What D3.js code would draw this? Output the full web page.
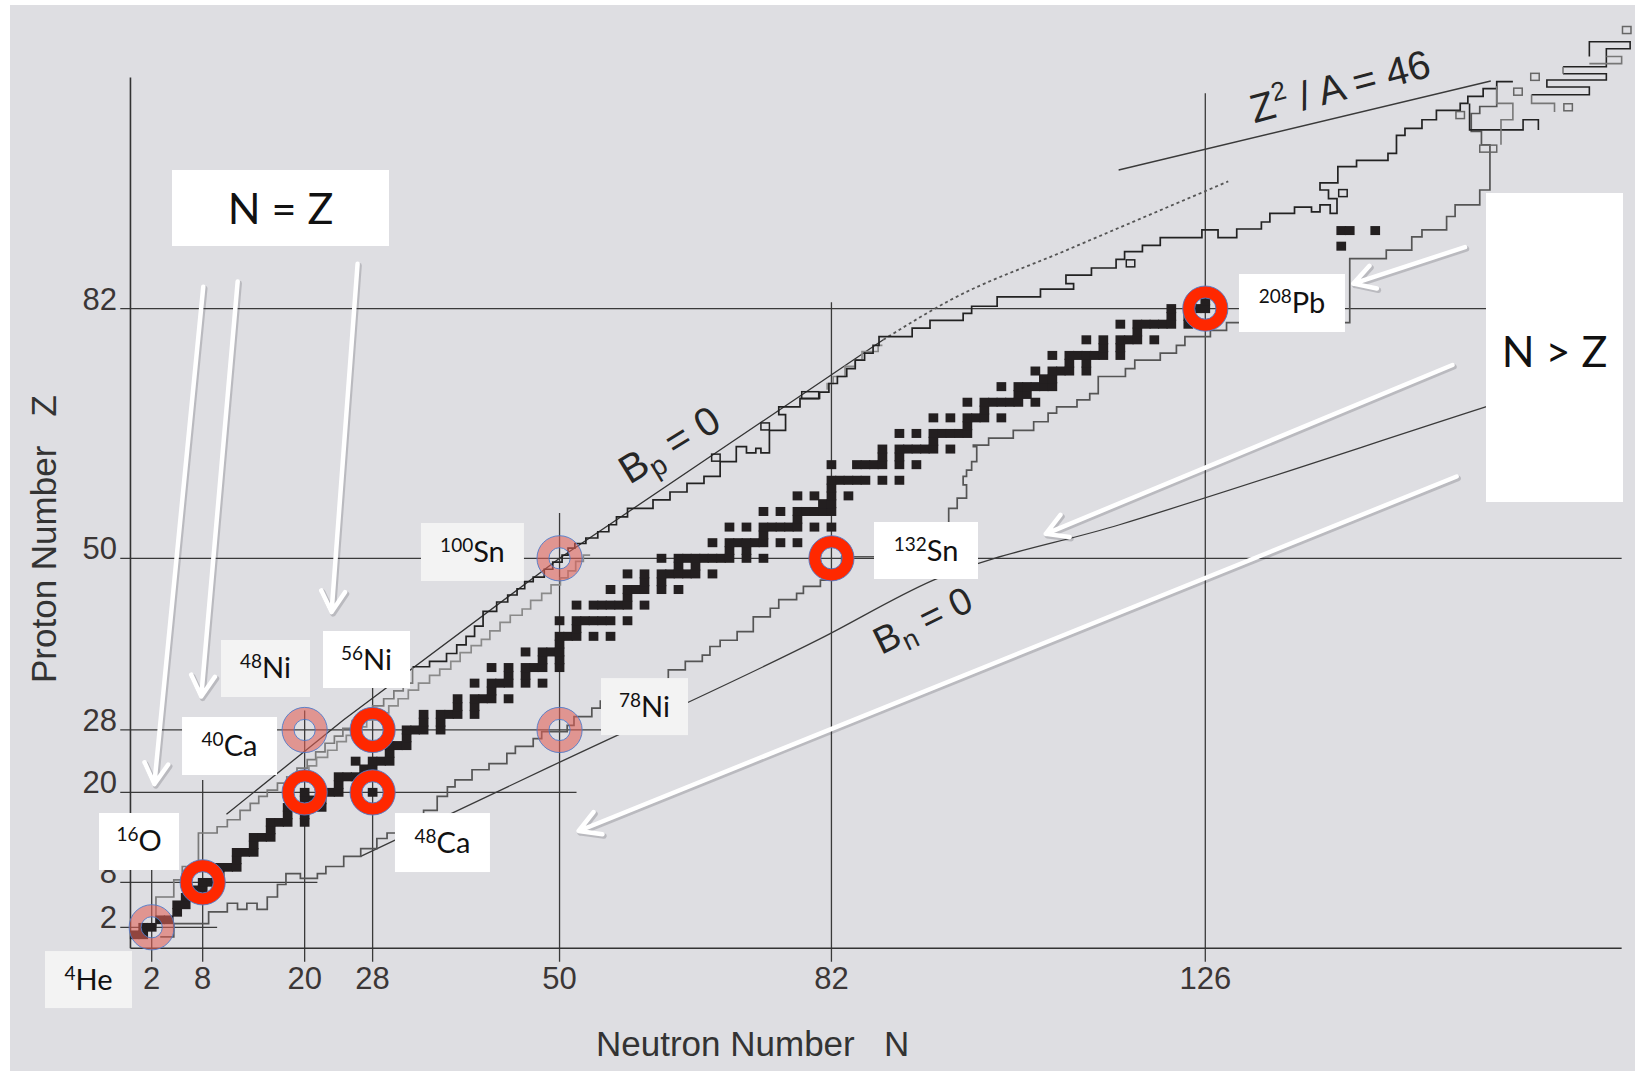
<!DOCTYPE html>
<html>
<head>
<meta charset="utf-8">
<script src="https://cdn.jsdelivr.net/npm/d3@7"></script>
<style>
  body { margin: 0; background: #fff; }
  svg { display: block; }
</style>
</head>
<body>
<svg id="chart" width="1635" height="1071"></svg>
<script>
const W = 1635, H = 1071

// magic numbers shown on the axes
const magicN = [2, 8, 20, 28, 50, 82, 126]
const magicZ = [82, 50, 28, 20, 8, 2]
// how far each magic line runs: [value, start, end] (in the other coordinate)
const gridZ = [[82, -1.7, 175], [50, -1.7, 175], [28, -1.7, 56], [20, -1.7, 52], [8, -1.7, 21.5], [2, -1.7, 9.7]]
const gridN = [[2, -2.6, 11], [8, -2.6, 21.6], [20, -2.6, 30.5], [28, -2.6, 38], [50, -2.6, 55.8], [82, -2.6, 82.8], [126, -2.6, 109.6]]

// stable (and primordial) nuclides: [Z, [N ...]]
const stable = [
  [1,[0,1]],[2,[1,2]],[3,[3,4]],[4,[5]],[5,[5,6]],[6,[6,7]],[7,[7,8]],[8,[8,9,10]],[9,[10]],[10,[10,11,12]],
  [11,[12]],[12,[12,13,14]],[13,[14]],[14,[14,15,16]],[15,[16]],[16,[16,17,18,20]],[17,[18,20]],[18,[18,20,22]],[19,[20,21,22]],[20,[20,22,23,24,26,28]],
  [21,[24]],[22,[24,25,26,27,28]],[23,[27,28]],[24,[26,28,29,30]],[25,[30]],[26,[28,30,31,32]],[27,[32]],[28,[30,32,33,34,36]],[29,[34,36]],[30,[34,36,37,38,40]],
  [31,[38,40]],[32,[38,40,41,42,44]],[33,[42]],[34,[40,42,43,44,46,48]],[35,[44,46]],[36,[42,44,46,47,48,50]],[37,[48,50]],[38,[46,48,49,50]],[39,[50]],[40,[50,51,52,54,56]],
  [41,[52]],[42,[50,52,53,54,55,56,58]],[44,[52,54,55,56,57,58,60]],[45,[58]],[46,[56,58,59,60,62,64]],[47,[60,62]],[48,[58,60,62,63,64,65,66,68]],[49,[64,66]],[50,[62,64,65,66,67,68,69,70,72,74]],
  [51,[70,72]],[52,[68,70,71,72,73,74,76,78]],[53,[74]],[54,[70,72,74,75,76,77,78,80,82]],[55,[78]],[56,[74,76,78,79,80,81,82]],[57,[81,82]],[58,[78,80,82,84]],[59,[82]],[60,[82,83,84,85,86,88,90]],
  [62,[82,85,86,87,88,90,92]],[63,[88,90]],[64,[88,90,91,92,93,94,96]],[65,[94]],[66,[90,92,94,95,96,97,98]],[67,[98]],[68,[94,96,98,99,100,102]],[69,[100]],[70,[98,100,101,102,103,104,106]],
  [71,[104,105]],[72,[102,104,105,106,107,108]],[73,[107,108]],[74,[106,108,109,110,112]],[75,[110,112]],[76,[108,110,111,112,113,114,116]],[77,[114,116]],[78,[112,114,116,117,118,120]],[79,[118]],[80,[116,118,119,120,121,122,124]],
  [81,[122,124]],[82,[122,124,125,126]],[83,[126]],[90,[142]],[92,[142,143,146]]
]

// limits of known nuclei, stair lines: [N where the run starts, Z of the run]
const protonLimitLow = [[2.5,2.09],[2.5,6.04],[4.6,8.33],[5.6,10.11],[7.5,14.58],[9.7,15.42],[10.9,16.35],[12.4,17.6],[13.6,18.54],[14.6,19.48],[15.6,20.3],[16.8,21.2],[17.9,22.0],[19.1,23.1],[20.3,24.2],[21.3,25.2],[22.4,26.3],[23.5,27.2],[24.5,28.2],[25.6,29.2],[26.8,30.1],[28.0,31.1],[29.3,32.0],[30.5,33.0],[31.6,34.0],[32.7,36.1]]
const protonLimit = [[32.7,36.1],[34.7,36.8],[36.7,37.8],[37.9,38.9],[39.0,40.0],[40.0,41.3],[41.0,43.2],[42.6,44.4],[43.9,45.3],[45.0,46.1],[45.9,47.0],[46.9,47.6],[48.2,48.6],[49.2,49.5],[50.3,50.4],[51.0,51.3],[51.8,51.9],[53.1,52.6],[54.5,53.4],[55.8,54.3],[56.7,55.3],[58.0,56.4],[61.0,57.5],[63.0,58.5],[65.0,59.6],[67.0,60.5],[68.9,62.4],[70.8,64.3],[72.0,63.5],[73.1,64.1],[73.7,63.5],[74.7,66.4],[76.6,68.4],[75.8,69.4],[78.3,70.5],[80.6,71.3],[81.7,72.4],[82.7,73.3],[83.8,74.3],[84.8,75.4],[85.9,76.3],[86.9,77.3],[87.6,78.4],[91.5,79.5],[93.6,80.5],[97.5,81.4],[98.5,82.3],[101.5,83.5],[106.6,84.5],[110.5,85.2],[109.6,86.3],[112.6,87.2],[115.5,88.3],[116.5,89.3],[118.6,90.1],[120.7,91.1],[125.6,92.1],[127.5,91.1],[129.7,92.2],[132.6,93.1],[133.6,94.2],[136.5,95.0],[138.5,94.4],[139.5,95.3],[140.7,94.2],[141.5,96.1],[140.5,97.2],[139.5,98.1],[141.6,100.2],[143.8,101.0],[147.5,101.9],[148.5,104.2],[149.5,105.1],[151.5,106.2],[153.2,107.4],[156.0,108.3],[156.9,109.2],[158.7,110.2],[160.3,111.1],[162.2,111.1]]
const protonInner = [[17.9,22.0],[19.3,22.6],[20.5,23.4],[21.4,24.5],[22.7,25.4],[23.8,26.5],[24.9,27.3],[26.1,28.4],[27.3,29.3],[28.6,30.2],[29.9,31.1],[31.0,32.0],[32.2,33.1],[33.4,34.0],[34.7,35.0],[35.9,35.8],[37.2,36.8],[38.3,37.9],[39.6,38.8],[40.8,39.6],[41.8,40.7],[43.0,41.8],[44.2,42.7],[45.6,43.5],[46.6,44.6],[47.9,45.5],[49.0,46.6],[50.1,47.5],[51.0,48.4],[51.9,49.6],[52.8,50.4],[53.6,50.4]]
const protonInner2 = [[81.5,71.6],[81.5,72.4],[82.2,73.3],[83.6,74.6],[84.8,75.4],[85.6,76.5],[87.5,77.3],[88.0,77.3]]
const neutronLimit = [[3.0,0.73],[4.6,2.5],[8.7,4.07],[10.9,5.21],[12.1,4.38],[13.2,5.21],[14.4,4.38],[15.6,6.04],[16.8,7.71],[17.8,9.17],[19.5,8.54],[21.5,9.17],[22.5,10.11],[24.6,11.46],[26.6,12.5],[28.5,13.85],[29.7,14.58],[31.2,15.73],[32.6,16.67],[34.0,17.6],[35.6,19.48],[36.8,20.7],[37.7,21.6],[39.7,22.9],[41.7,23.7],[43.8,25.0],[44.8,25.9],[46.9,26.9],[47.9,27.8],[50.9,28.6],[51.7,29.7],[53.8,30.8],[54.8,31.7],[56.8,32.6],[58.8,33.4],[60.8,34.3],[62.8,35.7],[64.8,36.8],[66.8,37.6],[67.7,38.7],[68.9,39.5],[70.9,40.6],[72.8,42.5],[74.8,43.6],[75.8,44.7],[77.9,45.5],[78.7,46.4],[80.7,47.2],[82.2,48.6],[83.2,50.2],[95.8,56.4],[96.8,57.7],[97.9,59.4],[97.5,60.5],[97.9,61.3],[98.5,62.4],[99.1,64.3],[98.7,64.5],[100.5,65.4],[103.4,66.4],[105.8,67.5],[107.5,68.6],[108.5,69.4],[110.9,70.3],[112.4,71.1],[113.4,73.3],[116.6,74.3],[117.7,75.4],[120.7,76.3],[122.6,77.3],[123.6,78.4],[126.6,79.2],[128.5,80.2],[143.0,88.4],[147.3,89.5],[150.3,91.2],[151.5,92.1],[154.4,93.8],[155.4,95.3],[158.3,97.2],[159.5,98.1],[159.5,103.0],[158.5,104.7],[157.3,107.0],[158.3,107.9],[160.3,110.5]]

// superheavy corner outlines (corner lists)
const heavyBlack = [
  [[157.1,108.3],[157.1,104.9],[163.4,104.9],[163.4,106.2],[165.2,106.2],[165.2,104.9]],
  [[164.4,109.4],[171.2,109.4],[171.2,110.4],[166.2,110.4],[166.2,111.3],[173.2,111.3],[173.2,112.1],[168.1,112.1]],
  [[168.1,113.0],[173.2,113.0],[173.2,115.3],[176.0,115.3],[176.0,116.2],[171.2,116.2],[171.2,114.3]]
]
const heavyGray = [
  [[160.3,110.5],[160.3,108.3],[162.2,108.3],[162.2,106.2],[160.8,106.2],[160.8,103.0]],
  [[167.1,107.2],[167.1,108.3],[164.4,108.3],[164.4,109.4]],
  [[168.1,112.1],[168.1,113.0]],
  [[171.2,113.4],[175.0,113.4],[175.0,114.3],[173.2,114.3]]
]
// isolated known nuclei drawn as open boxes: [N, Z, cells wide]
const isolatedKnown = [[68.4,62.9,1],[74.2,66.9,1],[79.5,70.9,2],[117.2,87.8,1],[142.2,96.8,1],[156,106.8,1],[159.3,102.5,2],[162.8,109.8,1],[164.8,111.7,1],[168.7,107.8,1],[175.6,117.7,1]]

// theory lines
const protonDrip = [[10.8,17.08],[24.6,29.3],[50,50],[88.1,78.0]]
const protonDripExtrap = [[88.1,78.0],[96,83.1],[109.7,89.5],[128.7,98.3]]
const neutronDrip = [[26.6,11.46],[48.9,23.3],[80.7,39.7],[94,47.2],[115.9,54.3],[159,69.4],[165,71.5]]
const fissionLimit = [[115.8,99.76],[159.6,111.17]]

// doubly magic nuclei
const ringsStrong = [[8,8],[20,20],[28,20],[28,28],[82,50],[126,82]]
const ringsPale = [[2,2],[20,28],[50,28],[50,50]]
const isotopes = [["4","He"],["16","O"],["40","Ca"],["48","Ni"],["56","Ni"],["100","Sn"],["78","Ni"],["48","Ca"],["132","Sn"],["208","Pb"]]

// --- layout of annotations (N, Z of box centre, box size, fill) ---
const labelLayout = {
  "4He":   [-5.44, -4.97, 87, 57, "#f3f3f3"],
  "16O":   [0.51, 13.45, 80, 57, "#fff"],
  "40Ca":  [11.16, 25.95, 95, 58, "#fff"],
  "48Ni":  [15.39, 35.88, 89, 57, "#f3f3f3"],
  "56Ni":  [27.28, 37.03, 87, 57, "#fff"],
  "100Sn": [39.75, 50.81, 103, 58, "#f3f3f3"],
  "78Ni":  [60.0, 31.0, 87, 57, "#f3f3f3"],
  "48Ca":  [36.22, 13.31, 95, 59, "#fff"],
  "132Sn": [93.13, 51.0, 104, 57, "#fff"],
  "208Pb": [136.2, 82.72, 106, 58, "#fff"]
}
const arrows = [[8.07,84.81,2.31,21.06],[12.12,85.47,7.83,32.29],[26.23,87.74,23.17,43.11],[156.56,89.88,143.43,85.2],[155.09,74.77,107.23,53.13],[155.58,60.48,52.25,14.85]]

const x = d3.scaleLinear().domain([2, 126]).range([151.7, 1205.3])
const y = d3.scaleLinear().domain([2, 20, 82]).range([927.3, 792.4, 308.6])

const svg = d3.select("#chart")
svg.append("rect").attr("width", W).attr("height", H).attr("fill", "#fff")
svg.append("rect").attr("x", 10).attr("y", 5).attr("width", W - 10).attr("height", H - 5).attr("fill", "#dedee2")

// magic number lines
const grid = svg.append("g").attr("stroke", "#3a3a3a").attr("stroke-width", 1.3)
grid.selectAll(".gz").data(gridZ).join("line")
  .attr("x1", d => x(d[1])).attr("x2", d => x(d[2]))
  .attr("y1", d => y(d[0])).attr("y2", d => y(d[0]))
grid.selectAll(".gn").data(gridN).join("line")
  .attr("x1", d => x(d[0])).attr("x2", d => x(d[0]))
  .attr("y1", d => y(d[1])).attr("y2", d => y(d[2]))
// axes frame
svg.append("line").attr("x1", x(-0.5)).attr("x2", x(-0.5)).attr("y1", y(111.6)).attr("y2", y(-0.8))
  .attr("stroke", "#333").attr("stroke-width", 1.6)
svg.append("line").attr("x1", x(-0.5)).attr("x2", x(175)).attr("y1", y(-0.8)).attr("y2", y(-0.8))
  .attr("stroke", "#333").attr("stroke-width", 1.6)

// tick labels
const tickFont = "'Liberation Sans', Arial, Helvetica, sans-serif"
svg.selectAll(".yt").data(magicZ).join("text")
  .attr("x", 117).attr("y", d => y(d) + 1)
  .attr("text-anchor", "end").attr("font-family", tickFont).attr("font-size", 31).attr("fill", "#3b3636")
  .text(d => d)
svg.selectAll(".xt").data(magicN).join("text")
  .attr("x", d => x(d)).attr("y", 989)
  .attr("text-anchor", "middle").attr("font-family", tickFont).attr("font-size", 31).attr("fill", "#3b3636")
  .text(d => d)
svg.append("text").attr("x", 596).attr("y", 1056).attr("font-family", tickFont).attr("font-size", 35)
  .attr("fill", "#333").attr("xml:space", "preserve").text("Neutron Number   N")
svg.append("text").attr("transform", "translate(56,683) rotate(-90)").attr("font-family", tickFont)
  .attr("font-size", 35).attr("fill", "#333").attr("xml:space", "preserve").text("Proton Number   Z")

// theory lines
const straight = d3.line().x(d => x(d[0])).y(d => y(d[1]))
const smooth = d3.line().x(d => x(d[0])).y(d => y(d[1])).curve(d3.curveMonotoneX)
const stair = d3.line().x(d => x(d[0])).y(d => y(d[1])).curve(d3.curveStepAfter)
svg.append("path").attr("d", straight(protonDrip)).attr("fill", "none").attr("stroke", "#333").attr("stroke-width", 1.3)
svg.append("path").attr("d", smooth(protonDripExtrap)).attr("fill", "none").attr("stroke", "#555")
  .attr("stroke-width", 1.8).attr("stroke-dasharray", "3,3")
svg.append("path").attr("d", smooth(neutronDrip)).attr("fill", "none").attr("stroke", "#3a3a3a").attr("stroke-width", 1.3)
svg.append("path").attr("d", straight(fissionLimit)).attr("fill", "none").attr("stroke", "#3a3a3a").attr("stroke-width", 1.4)

// known-nuclei limits
const stairs = [[protonLimitLow, "#7a7a7a"], [protonInner, "#8a8a8a"], [protonInner2, "#8a8a8a"], [protonLimit, "#222"], [neutronLimit, "#555"]]
svg.selectAll(".stair").data(stairs).join("path")
  .attr("d", d => stair(d[0])).attr("fill", "none").attr("stroke", d => d[1]).attr("stroke-width", 1.7)
svg.selectAll(".hb").data(heavyBlack).join("path")
  .attr("d", d => straight(d)).attr("fill", "none").attr("stroke", "#222").attr("stroke-width", 1.6)
svg.selectAll(".hg").data(heavyGray).join("path")
  .attr("d", d => straight(d)).attr("fill", "none").attr("stroke", "#777").attr("stroke-width", 1.6)
svg.selectAll(".iso").data(isolatedKnown).join("rect")
  .attr("x", d => x(d[0] - d[2] / 2)).attr("width", d => x(d[2]) - x(0))
  .attr("y", d => y(d[1] + 0.45)).attr("height", d => y(d[1] - 0.45) - y(d[1] + 0.45))
  .attr("fill", "none").attr("stroke", d => d[0] > 150 ? "#666" : "#222").attr("stroke-width", 1.5)

// stable nuclides
const cells = stable.flatMap(([z, ns]) => ns.map(n => ({ n, z })))
svg.append("g").selectAll("rect").data(cells).join("rect")
  .attr("x", d => x(d.n - 0.5) - 0.6)
  .attr("width", d => x(d.n + 0.5) - x(d.n - 0.5) + 1.2)
  .attr("y", d => y(d.z + 0.5) - 0.6)
  .attr("height", d => y(d.z - 0.5) - y(d.z + 0.5) + 1.2)
  .attr("fill", "#231f20")

// doubly magic rings
const rOut = 22.6, rIn = 10.6
const ringG = svg.append("g")
function ring(d, color) {
  const cx = x(d[0]), cy = y(d[1])
  ringG.append("circle").attr("cx", cx).attr("cy", cy).attr("r", (rOut + rIn) / 2)
    .attr("fill", "none").attr("stroke", color).attr("stroke-width", rOut - rIn)
  ringG.append("circle").attr("cx", cx).attr("cy", cy).attr("r", rOut).attr("fill", "none").attr("stroke", "#4f7bc9").attr("stroke-width", 0.9)
  ringG.append("circle").attr("cx", cx).attr("cy", cy).attr("r", rIn).attr("fill", "none").attr("stroke", "#4f7bc9").attr("stroke-width", 0.9)
}
ringsPale.forEach(d => ring(d, "rgba(226,96,86,0.58)"))
ringsStrong.forEach(d => ring(d, "#ff2800"))

// rotated line names
const nameFont = "'Liberation Sans', Arial, Helvetica, sans-serif"
function rotLabel(n, z, angle, parts) {
  const t = svg.append("text").attr("transform", `translate(${x(n)},${y(z)}) rotate(${angle})`)
    .attr("text-anchor", "middle").attr("font-family", nameFont).attr("fill", "#262626").attr("xml:space", "preserve")
  parts.forEach(p => t.append("tspan").attr("font-size", p[1]).attr("dy", p[2]).text(p[0]))
}
rotLabel(62.9, 64.6, -31.5, [["B", 40, 14], ["p", 28, 8], [" = 0", 40, -8]])
rotLabel(92.75, 42.05, -26, [["B", 38, 13], ["n", 27, 8], [" = 0", 38, -8]])
rotLabel(141.85, 110.5, -14.8, [["Z", 40, 14], ["2", 26, -16], [" / A = 46", 40, 16]])

// white arrows
const arrowG = svg.append("g")
arrows.forEach(a => {
  const x1 = x(a[0]), y1 = y(a[1]), x2 = x(a[2]), y2 = y(a[3])
  const ang = Math.atan2(y2 - y1, x2 - x1), L = 24, sp = 0.52
  const h1 = [x2 - L * Math.cos(ang - sp), y2 - L * Math.sin(ang - sp)]
  const h2 = [x2 - L * Math.cos(ang + sp), y2 - L * Math.sin(ang + sp)]
  const p = `M${x1},${y1}L${x2},${y2}M${h1[0]},${h1[1]}L${x2},${y2}L${h2[0]},${h2[1]}`
  arrowG.append("path").attr("d", p).attr("transform", "translate(1.5,1.8)").attr("fill", "none")
    .attr("stroke", "rgba(60,60,70,0.22)").attr("stroke-width", 5.5).attr("stroke-linecap", "round").attr("stroke-linejoin", "round")
  arrowG.append("path").attr("d", p).attr("fill", "none")
    .attr("stroke", "#fff").attr("stroke-width", 4.5).attr("stroke-linecap", "round").attr("stroke-linejoin", "round")
})

// label boxes
const boxFont = "Lato, 'Open Sans', 'Noto Sans', sans-serif"
isotopes.forEach(([m, el]) => {
  const [n, z, w, h, fill] = labelLayout[m + el]
  const cx = x(n), cy = y(z)
  svg.append("rect").attr("x", cx - w / 2).attr("y", cy - h / 2).attr("width", w).attr("height", h).attr("fill", fill)
  const t = svg.append("text").attr("x", cx).attr("y", cy + 10).attr("text-anchor", "middle")
    .attr("font-family", boxFont).attr("fill", "#111")
  t.append("tspan").attr("font-size", 19).attr("dy", -10).text(m)
  t.append("tspan").attr("font-size", 29).attr("dy", 10).text(el)
})
// N = Z and N > Z boxes
svg.append("rect").attr("x", 172).attr("y", 170).attr("width", 217).attr("height", 76).attr("fill", "#fff")
svg.append("text").attr("x", 280.5).attr("y", 224).attr("text-anchor", "middle").attr("font-family", boxFont)
  .attr("font-size", 43).attr("fill", "#111").text("N = Z")
svg.append("rect").attr("x", 1486).attr("y", 193).attr("width", 137).attr("height", 309).attr("fill", "#fff")
svg.append("text").attr("x", 1554.5).attr("y", 367).attr("text-anchor", "middle").attr("font-family", boxFont)
  .attr("font-size", 43).attr("fill", "#111").text("N > Z")
</script>
</body>
</html>
